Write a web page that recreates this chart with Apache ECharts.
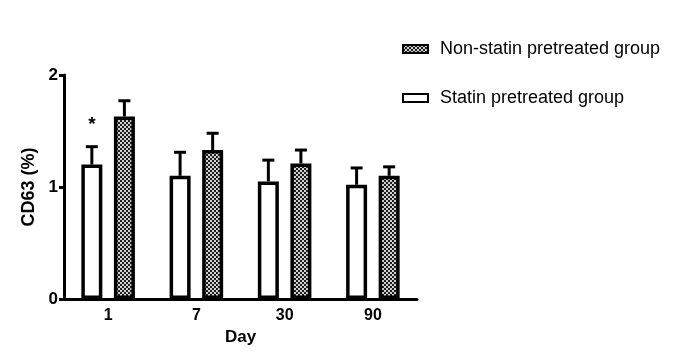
<!DOCTYPE html>
<html>
<head>
<meta charset="utf-8">
<script src="https://cdn.jsdelivr.net/npm/echarts@6/dist/echarts.min.js"></script>
<style>
    html, body { margin: 0; padding: 0; background: #fff; }
    #chart { width: 685px; height: 364px; }
</style>
</head>
<body>
<div id="chart"></div>
<script>
// values
let days = ['1', '7', '30', '90'];
let statinMean = [1.20, 1.10, 1.05, 1.02];
let statinUpper = [1.36, 1.31, 1.24, 1.17];
let nonStatinMean = [1.63, 1.33, 1.21, 1.10];
let nonStatinUpper = [1.77, 1.48, 1.33, 1.18];
let marks = ['*', '', '', ''];
let yTicks = [0, 1, 2];

(function () {
    let chart = echarts.init(document.getElementById('chart'));

    // checkered fill for the non-statin bars
    let tile = document.createElement('canvas');
    tile.width = 4;
    tile.height = 4;
    let ctx = tile.getContext('2d');
    ctx.fillStyle = '#d0d0d0';
    ctx.fillRect(0, 0, 4, 4);
    ctx.fillStyle = '#1e1e1e';
    ctx.fillRect(0, 0, 2, 2);
    ctx.fillRect(2, 2, 2, 2);
    let checker = {image: tile, repeat: 'repeat'};

    let barWidth = 21;
    let barGap = 0.55;
    let shift = (barWidth + barWidth * barGap) / 2;

    function errorSeries(name, mean, upper, dx, labels) {
        return {
            name: name + ' err',
            type: 'custom',
            silent: true,
            z: 5,
            data: mean.map(function (m, i) {
                return [i, m, upper[i]];
            }),
            renderItem: function (params, api) {
                let i = api.value(0);
                let base = api.coord([i, api.value(1)]);
                let top = api.coord([i, api.value(2)]);
                let x = base[0] + dx;
                let children = [
                    {type: 'line', shape: {x1: x, y1: base[1], x2: x, y2: top[1]},
                        style: {stroke: '#000', lineWidth: 3}},
                    {type: 'line', shape: {x1: x - 6, y1: top[1], x2: x + 6, y2: top[1]},
                        style: {stroke: '#000', lineWidth: 3}}
                ];
                if (labels && labels[i]) {
                    children.push({
                        type: 'text',
                        style: {
                            text: labels[i], x: x, y: top[1] - 22,
                            fill: '#000', font: 'bold 19px "Liberation Sans"',
                            textAlign: 'center', textVerticalAlign: 'middle'
                        }
                    });
                }
                return {type: 'group', children: children};
            }
        };
    }

    let option = {
        animation: false,
        backgroundColor: '#fff',
        legend: {
            data: ['Non-statin pretreated group', 'Statin pretreated group'],
            orient: 'vertical',
            left: 397,
            top: 35,
            itemGap: 31,
            itemWidth: 25,
            itemHeight: 8,
            icon: 'rect',
            textStyle: {
                color: '#000',
                fontFamily: 'Liberation Sans',
                fontSize: 18,
                padding: [0, 0, 0, 7]
            }
        },
        grid: {
            left: 64,
            right: 268,
            top: 75,
            bottom: 65
        },
        xAxis: {
            type: 'category',
            data: days,
            name: 'Day',
            nameLocation: 'middle',
            nameGap: 30,
            nameTextStyle: {
                color: '#000',
                fontFamily: 'Liberation Sans',
                fontWeight: 'bold',
                fontSize: 17
            },
            axisLine: {lineStyle: {color: '#000', width: 3}},
            axisTick: {show: false},
            axisLabel: {
                color: '#000',
                fontFamily: 'Liberation Sans',
                fontWeight: 'bold',
                fontSize: 16,
                margin: 9
            }
        },
        yAxis: {
            type: 'value',
            min: yTicks[0],
            max: yTicks[yTicks.length - 1],
            interval: 1,
            name: 'CD63 (%)',
            nameLocation: 'middle',
            nameGap: 19,
            nameTextStyle: {
                color: '#000',
                fontFamily: 'Liberation Sans',
                fontWeight: 'bold',
                fontSize: 18
            },
            axisLine: {show: true, lineStyle: {color: '#000', width: 3}},
            axisTick: {show: true, length: 5, lineStyle: {color: '#000', width: 3}},
            axisLabel: {
                color: '#000',
                fontFamily: 'Liberation Sans',
                fontWeight: 'bold',
                fontSize: 17,
                margin: 6
            },
            splitLine: {show: false}
        },
        series: [
            {
                name: 'Statin pretreated group',
                type: 'bar',
                data: statinMean,
                barWidth: barWidth,
                barGap: (barGap * 100) + '%',
                itemStyle: {color: '#fff', borderColor: '#000', borderWidth: 3.5}
            },
            {
                name: 'Non-statin pretreated group',
                type: 'bar',
                data: nonStatinMean,
                barWidth: barWidth,
                itemStyle: {color: checker, borderColor: '#000', borderWidth: 3.5}
            },
            errorSeries('Statin', statinMean, statinUpper, -shift, marks),
            errorSeries('Non-statin', nonStatinMean, nonStatinUpper, shift, null)
        ]
    };

    chart.setOption(option);
})();
</script>
</body>
</html>
